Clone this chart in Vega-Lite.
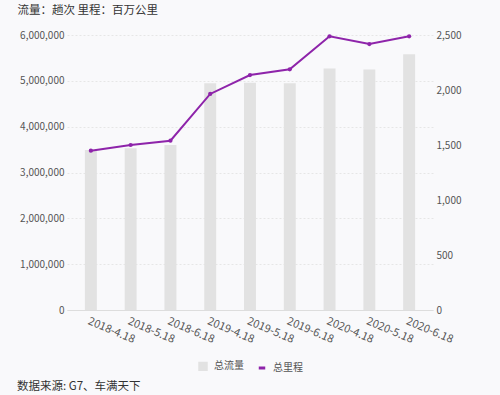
{
  "$schema": "https://vega.github.io/schema/vega-lite/v6.json",
  "autosize": "none",
  "width": 366,
  "height": 275,
  "padding": {"left": 67, "top": 35, "right": 67, "bottom": 85},
  "background": "#f9f9fb",
  "title": {
    "text": "数据来源: G7、车满天下",
    "orient": "bottom",
    "anchor": "start",
    "frame": "group",
    "dx": -50,
    "offset": 5,
    "fontSize": 11.5,
    "fontWeight": "normal",
    "color": "#333333",
    "font": "Noto Sans CJK SC"
  },
  "data": {
    "values": [
      {"date": "2018-4.18", "flow": 3490000, "mileage": 1448},
      {"date": "2018-5.18", "flow": 3530000, "mileage": 1500},
      {"date": "2018-6.18", "flow": 3600000, "mileage": 1539},
      {"date": "2019-4.18", "flow": 4950000, "mileage": 1964},
      {"date": "2019-5.18", "flow": 4960000, "mileage": 2136},
      {"date": "2019-6.18", "flow": 4950000, "mileage": 2188},
      {"date": "2020-4.18", "flow": 5270000, "mileage": 2488},
      {"date": "2020-5.18", "flow": 5250000, "mileage": 2418},
      {"date": "2020-6.18", "flow": 5580000, "mileage": 2488}
    ]
  },
  "encoding": {
    "x": {
      "field": "date",
      "type": "ordinal",
      "sort": null,
      "scale": {"paddingInner": 0.7, "paddingOuter": 0.45},
      "axis": {
        "title": null,
        "labelAngle": 23,
        "labelAlign": "left",
        "labelBaseline": "top",
        "labelFontSize": 11,
        "labelColor": "#555555",
        "labelPadding": 5,
        "ticks": false,
        "domainColor": "#dddddd",
        "grid": false
      }
    }
  },
  "layer": [
    {
      "mark": {"type": "bar"},
      "encoding": {
        "y": {
          "field": "flow",
          "type": "quantitative",
          "scale": {"domain": [0, 6000000], "nice": false},
          "axis": {
            "title": "流量：趟次 里程：百万公里",
            "titleAngle": 0,
            "titleAlign": "left",
            "titleBaseline": "middle",
            "titleX": -50,
            "titleY": -25,
            "titleFontSize": 11.5,
            "titleFontWeight": "normal",
            "titleColor": "#333333",
            "values": [0, 1000000, 2000000, 3000000, 4000000, 5000000, 6000000],
            "format": ",d",
            "labelFontSize": 10,
            "labelColor": "#555555",
            "labelPadding": 3,
            "ticks": false,
            "domain": false,
            "grid": true,
            "gridColor": "#e6e6e6",
            "gridDash": [2, 2]
          }
        },
        "color": {
          "datum": "总流量",
          "type": "nominal",
          "legend": {
            "orient": "bottom",
            "direction": "horizontal",
            "title": null,
            "offset": 16,
            "labelFontSize": 10,
            "labelColor": "#555555",
            "symbolSize": 42,
            "columnPadding": 8,
            "labelOffset": 6,
            "encode": {
              "symbols": {
                "update": {
                  "shape": {"signal": "datum.value === '总里程' ? 'stroke' : 'square'"},
                  "fill": {"signal": "datum.value === '总里程' ? 'transparent' : '#e2e2e2'"},
                  "stroke": {"signal": "datum.value === '总里程' ? '#8e24aa' : 'transparent'"},
                  "strokeWidth": {"value": 3}
                }
              }
            }
          }
        }
      }
    },
    {
      "mark": {"type": "line", "strokeWidth": 2, "point": {"filled": true, "size": 18}},
      "encoding": {
        "y": {
          "field": "mileage",
          "type": "quantitative",
          "scale": {"domain": [0, 2500], "nice": false},
          "axis": {
            "title": null,
            "orient": "right",
            "values": [0, 500, 1000, 1500, 2000, 2500],
            "format": ",d",
            "labelFontSize": 10,
            "labelColor": "#555555",
            "labelPadding": 3,
            "ticks": false,
            "domain": false,
            "grid": false
          }
        },
        "color": {"datum": "总里程", "type": "nominal"}
      }
    }
  ],
  "resolve": {"scale": {"y": "independent"}},
  "config": {
    "font": "Noto Sans CJK SC",
    "view": {"stroke": null},
    "range": {"category": ["#e2e2e2", "#8e24aa"]},
    "legend": {
      "layout": {"bottom": {"anchor": "middle"}}
    }
  }
}
